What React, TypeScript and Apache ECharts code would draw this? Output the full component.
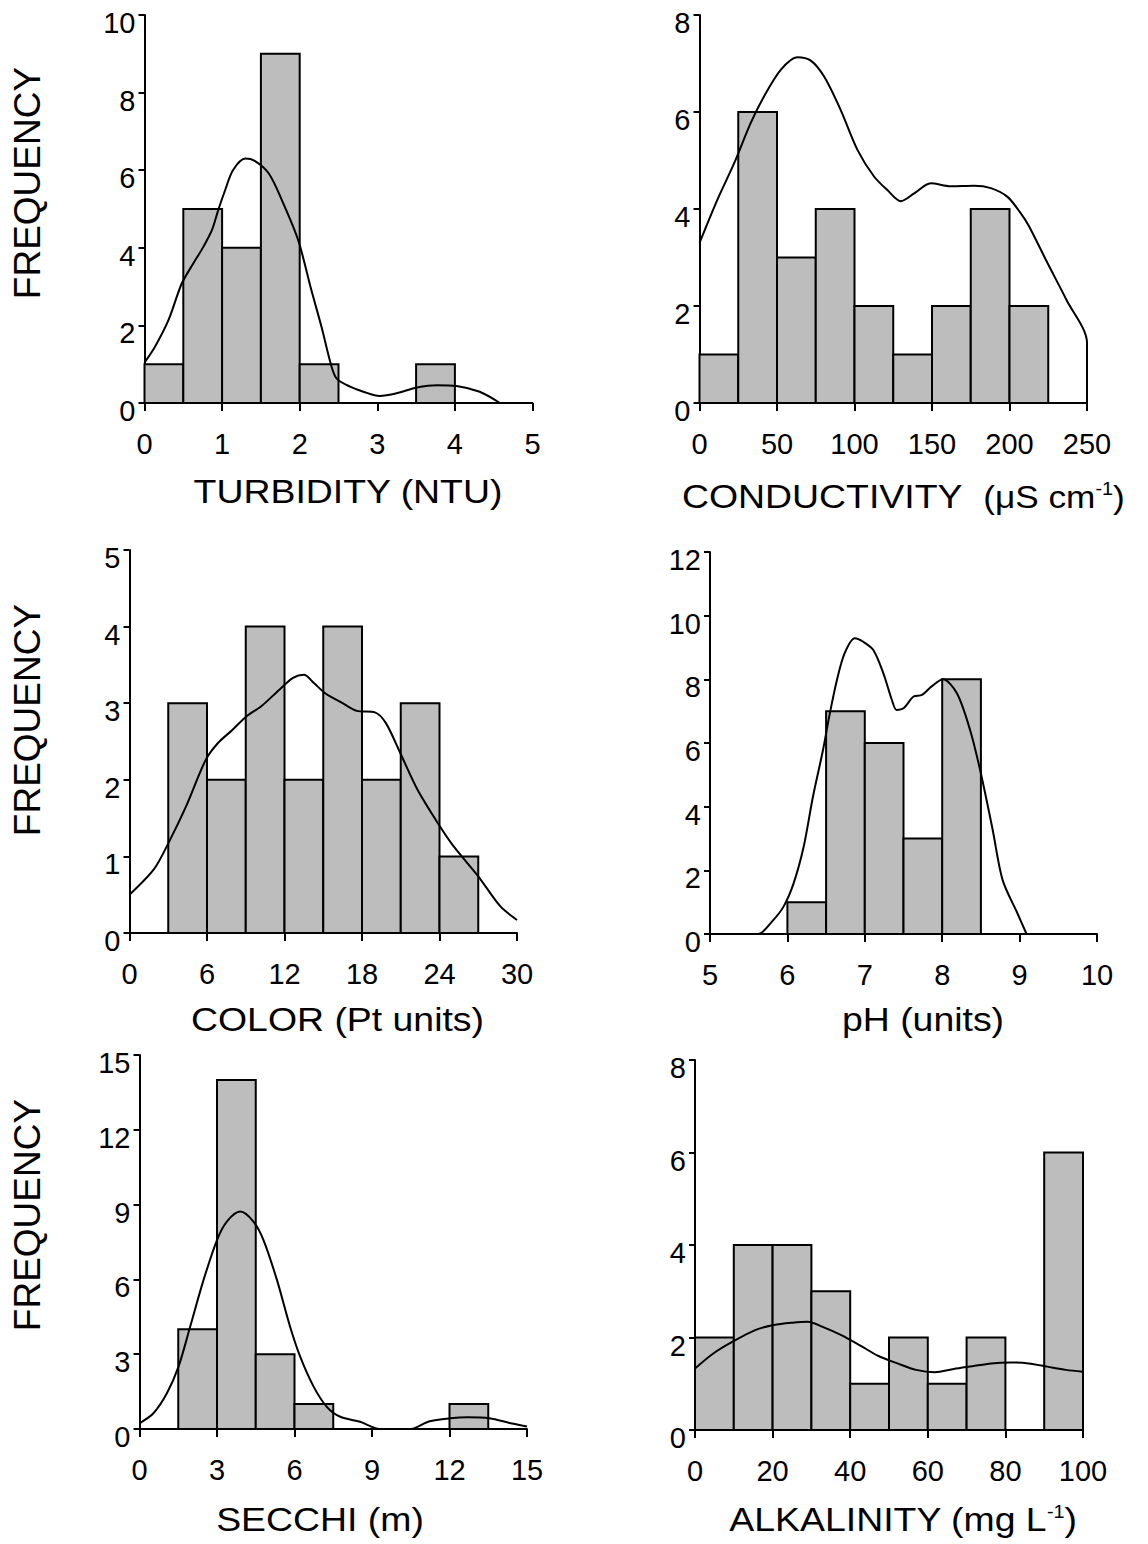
import React, { useEffect, useRef } from "react";
import * as echarts from "echarts";

// ---------- data ----------
const turbidityBinStarts = [0, 0.5, 1, 1.5, 2, 3.5];
const turbidityCounts = [1, 5, 4, 9, 1, 1];
const turbidityBinWidth = 0.5;
const turbidityCurveX = [0, 0.135, 0.31, 0.48, 0.63, 0.76, 0.87, 0.95, 1.04, 1.14, 1.3, 1.42, 1.6, 1.77, 1.98, 2.15, 2.28, 2.41, 2.48, 2.65, 2.82, 3.03, 3.25, 3.51, 3.77, 4.02, 4.32, 4.58];
const turbidityCurveY = [1.04, 1.45, 2.14, 3.08, 3.6, 4.03, 4.46, 4.97, 5.49, 6.0, 6.3, 6.24, 5.92, 5.23, 4.2, 2.91, 1.97, 0.94, 0.62, 0.42, 0.29, 0.18, 0.25, 0.4, 0.46, 0.44, 0.29, 0];

const conductivityBinStarts = [0, 25, 50, 75, 100, 125, 150, 175, 200];
const conductivityCounts = [1, 6, 3, 4, 2, 1, 2, 4, 2];
const conductivityBinWidth = 25;
const conductivityCurveX = [0, 11.5, 22.3, 33, 41.6, 52.4, 63.1, 71.8, 80.4, 91.1, 101.9, 112.6, 121.2, 129.9, 138.5, 149.2, 162.1, 177.2, 188, 198.7, 207.3, 212.5, 224.6, 236.7, 250, 250];
const conductivityCurveY = [3.3, 4.19, 4.94, 5.77, 6.32, 6.87, 7.13, 7.06, 6.73, 6.04, 5.22, 4.67, 4.39, 4.16, 4.32, 4.53, 4.47, 4.48, 4.43, 4.25, 3.91, 3.65, 2.88, 2.13, 1.24, 0];

const colorBinStarts = [3, 6, 9, 12, 15, 18, 21, 24];
const colorCounts = [3, 2, 4, 2, 4, 2, 3, 1];
const colorBinWidth = 3;
const colorCurveX = [0, 1.88, 3, 4.37, 5.9, 6.85, 7.96, 9.07, 10.2, 11.56, 12.66, 13.5, 14.3, 15.15, 16.5, 17.6, 19, 19.85, 20.96, 22.3, 24, 25.1, 27, 28.7, 30];
const colorCurveY = [0.5, 0.83, 1.17, 1.65, 2.26, 2.48, 2.65, 2.83, 2.96, 3.17, 3.33, 3.37, 3.26, 3.13, 3.0, 2.9, 2.88, 2.74, 2.35, 1.87, 1.4, 1.13, 0.74, 0.35, 0.17];

const phBinStarts = [6, 6.5, 7, 7.5, 8];
const phCounts = [1, 7, 6, 3, 8];
const phBinWidth = 0.5;
const phCurveX = [5, 5.62, 5.8, 5.95, 6.08, 6.21, 6.33, 6.46, 6.54, 6.64, 6.74, 6.87, 6.98, 7.11, 7.24, 7.35, 7.41, 7.5, 7.63, 7.74, 7.86, 8.01, 8.19, 8.36, 8.49, 8.65, 8.78, 8.97, 9.09];
const phCurveY = [0, 0, 0.39, 0.86, 1.59, 2.74, 4.31, 5.78, 6.83, 7.98, 8.82, 9.29, 9.18, 8.92, 8.19, 7.35, 7.04, 7.09, 7.46, 7.51, 7.77, 8.0, 7.56, 6.41, 5.15, 3.3, 1.7, 0.66, 0];

const secchiBinStarts = [1.5, 3, 4.5, 6, 12];
const secchiCounts = [4, 14, 3, 1, 1];
const secchiBinWidth = 1.5;
const secchiCurveX = [0, 0.54, 1.06, 1.51, 1.96, 2.48, 3.0, 3.38, 3.9, 4.41, 4.8, 5.32, 5.83, 6.22, 6.74, 7.25, 7.77, 8.54, 9.3, 10.5, 11.2, 12.03, 12.7, 13.55, 14.37, 15];
const secchiCurveY = [0.23, 0.63, 1.43, 2.5, 4.1, 5.98, 7.58, 8.32, 8.72, 8.32, 7.58, 5.98, 4.1, 2.9, 1.7, 0.89, 0.49, 0.29, 0, 0, 0.3, 0.43, 0.47, 0.43, 0.23, 0.1];

const alkalinityBinStarts = [0, 10, 20, 30, 40, 50, 60, 70, 90];
const alkalinityCounts = [2, 4, 4, 3, 1, 2, 1, 2, 6];
const alkalinityBinWidth = 10;
const alkalinityCurveX = [0, 4.8, 9.7, 15.5, 20.3, 25.1, 29, 32.9, 37.7, 42.5, 47.3, 52.2, 57, 61.8, 66.7, 71.5, 76.3, 81.2, 86, 90.8, 95.6, 100];
const alkalinityCurveY = [1.33, 1.66, 1.91, 2.16, 2.27, 2.32, 2.34, 2.23, 2.05, 1.83, 1.6, 1.44, 1.3, 1.25, 1.32, 1.38, 1.44, 1.46, 1.44, 1.37, 1.3, 1.26];

// ---------- layout ----------
const FONT = "'Liberation Sans', Arial, Helvetica, sans-serif";

const panels = [
  { starts: turbidityBinStarts, counts: turbidityCounts, w: turbidityBinWidth, cx: turbidityCurveX, cy: turbidityCurveY,
    grid: { left: 144.5, top: 15, width: 388, height: 388 }, x: [0, 5, 1], y: [0, 10, 2] },
  { starts: conductivityBinStarts, counts: conductivityCounts, w: conductivityBinWidth, cx: conductivityCurveX, cy: conductivityCurveY,
    grid: { left: 699.5, top: 15, width: 387.5, height: 388 }, x: [0, 250, 50], y: [0, 8, 2] },
  { starts: colorBinStarts, counts: colorCounts, w: colorBinWidth, cx: colorCurveX, cy: colorCurveY,
    grid: { left: 129.5, top: 550, width: 387.5, height: 383 }, x: [0, 30, 6], y: [0, 5, 1] },
  { starts: phBinStarts, counts: phCounts, w: phBinWidth, cx: phCurveX, cy: phCurveY,
    grid: { left: 710, top: 552, width: 387, height: 382 }, x: [5, 10, 1], y: [0, 12, 2] },
  { starts: secchiBinStarts, counts: secchiCounts, w: secchiBinWidth, cx: secchiCurveX, cy: secchiCurveY,
    grid: { left: 139.5, top: 1055, width: 387.5, height: 374 }, x: [0, 15, 3], y: [0, 15, 3] },
  { starts: alkalinityBinStarts, counts: alkalinityCounts, w: alkalinityBinWidth, cx: alkalinityCurveX, cy: alkalinityCurveY,
    grid: { left: 695, top: 1060, width: 388, height: 370 }, x: [0, 100, 20], y: [0, 8, 2] },
];

const axisLine = { show: true, onZero: false, lineStyle: { color: "#000", width: 2 } };

function buildOption() {
  const grids: any[] = [];
  const xAxes: any[] = [];
  const yAxes: any[] = [];
  const series: any[] = [];
  panels.forEach((p, i) => {
    grids.push({ ...p.grid, containLabel: false });
    xAxes.push({
      type: "value", gridIndex: i, min: p.x[0], max: p.x[1], interval: p.x[2],
      axisLine, splitLine: { show: false },
      axisTick: { show: true, inside: false, length: 8, lineStyle: { color: "#000", width: 2 } },
      axisLabel: { color: "#000", fontSize: 29, fontFamily: FONT, margin: 26 },
    });
    yAxes.push({
      type: "value", gridIndex: i, min: p.y[0], max: p.y[1], interval: p.y[2],
      axisLine, splitLine: { show: false },
      axisTick: { show: true, inside: false, length: 6, lineStyle: { color: "#000", width: 2 } },
      axisLabel: { color: "#000", fontSize: 29, fontFamily: FONT, margin: 9, verticalAlign: "top", lineHeight: 16 },
    });
    const bins = p.starts.map((s, k) => [s, s + p.w, p.counts[k]]);
    series.push({
      type: "custom", xAxisIndex: i, yAxisIndex: i, data: bins, z: 2,
      encode: { x: [0, 1], y: 2 },
      renderItem: (params: any, api: any) => {
        const tl = api.coord([api.value(0), api.value(2)]);
        const br = api.coord([api.value(1), 0]);
        return {
          type: "rect",
          shape: { x: tl[0], y: tl[1], width: br[0] - tl[0], height: br[1] - tl[1] },
          style: { fill: "#bdbdbd", stroke: "#000", lineWidth: 2 },
        };
      },
    });
    series.push({
      type: "line", xAxisIndex: i, yAxisIndex: i, z: 3,
      data: p.cx.map((x, k) => [x, p.cy[k]]),
      smooth: 0.3, showSymbol: false, symbol: "none",
      lineStyle: { color: "#000", width: 2 },
    });
  });

  const SX = 1.1;
  const t = (text: string, x: number, y: number, extra: any = {}) => ({
    type: "text", x, y, scaleX: SX,
    style: { text, fontSize: 34, fontFamily: FONT, fill: "#000", align: "center", verticalAlign: "middle" },
    ...extra,
  });
  const freq = (y: number) => ({
    type: "text", x: 27.5, y, rotation: Math.PI / 2,
    style: { text: "FREQUENCY", fontSize: 37, fontFamily: FONT, fill: "#000", align: "center", verticalAlign: "middle" },
  });

  const graphic: any[] = [
    freq(183),
    freq(720),
    freq(1215),
    t("TURBIDITY (NTU)", 348, 492),
    {
      type: "text", x: 682, y: 497, scaleX: SX,
      style: {
        text: "CONDUCTIVITY  {n|(\u03bcS cm}{s|-1}{n|)}",
        fontSize: 34, fontFamily: FONT, fill: "#000", align: "left", verticalAlign: "middle",
        rich: {
          n: { fontSize: 32, fontFamily: FONT, fill: "#000" },
          s: { fontSize: 18, fontFamily: FONT, fill: "#000", verticalAlign: "top" },
        },
      },
    },
    t("COLOR (Pt units)", 337.5, 1020),
    t("pH (units)", 923, 1020),
    t("SECCHI (m)", 320, 1520),
    {
      type: "text", x: 903, y: 1520, scaleX: SX,
      style: {
        text: "ALKALINITY (mg L{s|-1})",
        fontSize: 34, fontFamily: FONT, fill: "#000", align: "center", verticalAlign: "middle",
        rich: { s: { fontSize: 18, fontFamily: FONT, fill: "#000", verticalAlign: "top" } },
      },
    },
  ];

  return {
    animation: false,
    backgroundColor: "#fff",
    grid: grids,
    xAxis: xAxes,
    yAxis: yAxes,
    series,
    graphic,
  };
}

export default function App() {
  const ref = useRef<HTMLDivElement>(null);
  useEffect(() => {
    if (!ref.current) return;
    const chart = echarts.init(ref.current, undefined, { renderer: "svg" });
    chart.setOption(buildOption() as any);
    return () => chart.dispose();
  }, []);
  return (
    <div
      ref={ref}
      style={{ position: "absolute", left: 0, top: 0, width: 1148, height: 1544, background: "#fff" }}
    />
  );
}
